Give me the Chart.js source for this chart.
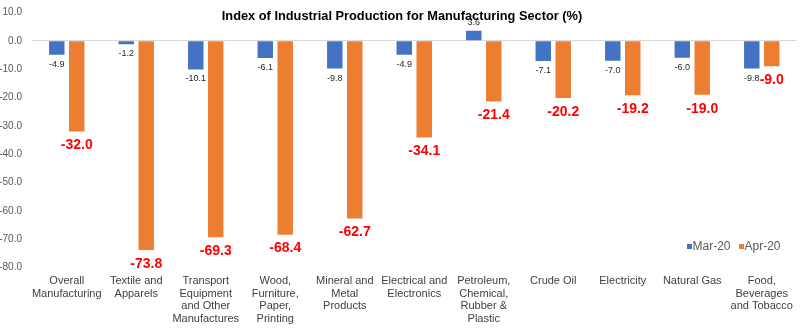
<!DOCTYPE html>
<html>
<head>
<meta charset="utf-8">
<script src="https://cdn.jsdelivr.net/npm/chart.js@4/dist/chart.umd.min.js"></script>
<style>
  html, body { margin: 0; padding: 0; background: #ffffff; }
  #wrap { width: 800px; height: 332px; position: relative; }
</style>
</head>
<body>
<div id="wrap"><canvas id="chart" width="800" height="332"></canvas></div>
<script>
// Sector categories (multi-line labels)
const categories = [
  ['Overall', 'Manufacturing'],
  ['Textile and', 'Apparels'],
  ['Transport', 'Equipment', 'and Other', 'Manufactures'],
  ['Wood,', 'Furniture,', 'Paper,', 'Printing'],
  ['Mineral and', 'Metal', 'Products'],
  ['Electrical and', 'Electronics'],
  ['Petroleum,', 'Chemical,', 'Rubber &', 'Plastic'],
  ['Crude Oil'],
  ['Electricity'],
  ['Natural Gas'],
  ['Food,', 'Beverages', 'and Tobacco']
];

// Year-on-year change (%)
const mar20 = [-4.9, -1.2, -10.1, -6.1, -9.8, -4.9, 3.6, -7.1, -7.0, -6.0, -9.8];
const apr20 = [-32.0, -73.8, -69.3, -68.4, -62.7, -34.1, -21.4, -20.2, -19.2, -19.0, -9.0];

const seriesNames = ['Mar-20', 'Apr-20'];
const chartTitle = 'Index of Industrial Production for Manufacturing Sector (%)';

// Value axis range
const yMin = -80, yMax = 10, yStep = 10;

const FONT = "'Liberation Sans', Arial, Helvetica, sans-serif";
const BLUE = '#4472C4';
const ORANGE = '#ED7D31';

// Fixed plot box (top and bottom edge of the value axis)
const PLOT_TOP = 12.5;
const PLOT_BOTTOM = 267.5;

// Pin the plot area so the value axis spans exactly PLOT_TOP..PLOT_BOTTOM
const fixedArea = {
  id: 'fixedArea',
  afterLayout(chart) {
    const area = chart.chartArea;
    area.top = PLOT_TOP;
    area.bottom = PLOT_BOTTOM;
    area.height = PLOT_BOTTOM - PLOT_TOP;
    const y = chart.scales.y;
    y.top = PLOT_TOP;
    y.bottom = PLOT_BOTTOM;
    y.height = PLOT_BOTTOM - PLOT_TOP;
    y.configure();
    const x = chart.scales.x;
    const h = x.height;
    x.top = PLOT_BOTTOM;
    x.bottom = PLOT_BOTTOM + h;
  }
};

// Value labels under/over each bar
const valueLabels = {
  id: 'valueLabels',
  afterDatasetsDraw(chart) {
    const ctx = chart.ctx;
    ctx.save();
    ctx.textAlign = 'center';
    ctx.textBaseline = 'middle';
    chart.data.datasets.forEach((ds, di) => {
      const meta = chart.getDatasetMeta(di);
      meta.data.forEach((bar, i) => {
        const v = ds.data[i];
        const txt = v.toFixed(1);
        if (di === 0) {
          ctx.font = '9px ' + FONT;
          ctx.fillStyle = '#262626';
          const y = v >= 0 ? bar.y - 8 : bar.y + 9.5;
          ctx.fillText(txt, bar.x, y);
        } else {
          ctx.font = 'bold 14px ' + FONT;
          ctx.fillStyle = '#FF0000';
          const y = v >= 0 ? bar.y - 12 : bar.y + 14;
          ctx.fillText(txt, bar.x, y);
        }
      });
    });
    ctx.restore();
  }
};

// Title and legend drawn over the plot area
const overlay = {
  id: 'overlay',
  afterDraw(chart) {
    const ctx = chart.ctx;
    ctx.save();
    ctx.textBaseline = 'middle';
    ctx.textAlign = 'center';
    ctx.font = 'bold 12.8px ' + FONT;
    ctx.fillStyle = '#000000';
    ctx.fillText(chartTitle, 402, 16);

    ctx.textAlign = 'left';
    ctx.font = '12px ' + FONT;
    const items = [
      { name: seriesNames[0], color: BLUE, x: 687 },
      { name: seriesNames[1], color: ORANGE, x: 739 }
    ];
    items.forEach(it => {
      ctx.fillStyle = it.color;
      ctx.fillRect(it.x, 244, 5, 5);
      ctx.fillStyle = '#595959';
      ctx.fillText(it.name, it.x + 5.5, 246.5);
    });
    ctx.restore();
  }
};

new Chart(document.getElementById('chart'), {
  type: 'bar',
  data: {
    labels: categories,
    datasets: [
      { label: seriesNames[0], data: mar20, backgroundColor: BLUE, categoryPercentage: 0.574, barPercentage: 0.775 },
      { label: seriesNames[1], data: apr20, backgroundColor: ORANGE, categoryPercentage: 0.574, barPercentage: 0.775 }
    ]
  },
  options: {
    responsive: false,
    animation: false,
    layout: { padding: { top: 12.5, right: 1, left: 0, bottom: 0 } },
    plugins: {
      legend: { display: false },
      title: { display: false },
      tooltip: { enabled: false }
    },
    scales: {
      x: {
        grid: { display: false, drawTicks: false },
        border: { display: false },
        ticks: {
          autoSkip: false,
          maxRotation: 0,
          minRotation: 0,
          padding: 7,
          color: '#404040',
          font: { family: FONT, size: 11, lineHeight: 1.15 }
        },
        afterFit(scale) { scale.height = 64.5; }
      },
      y: {
        min: yMin,
        max: yMax,
        border: { display: false },
        grid: {
          drawTicks: false,
          color: ctx => (ctx.tick && ctx.tick.value === 0) ? '#D9D9D9' : 'rgba(0,0,0,0)',
          lineWidth: 1
        },
        ticks: {
          stepSize: yStep,
          padding: 10,
          color: '#595959',
          font: { family: FONT, size: 10 },
          callback: v => Number(v).toFixed(1)
        },
        afterFit(scale) { scale.width = 32; }
      }
    }
  },
  plugins: [fixedArea, valueLabels, overlay]
});
</script>
</body>
</html>
